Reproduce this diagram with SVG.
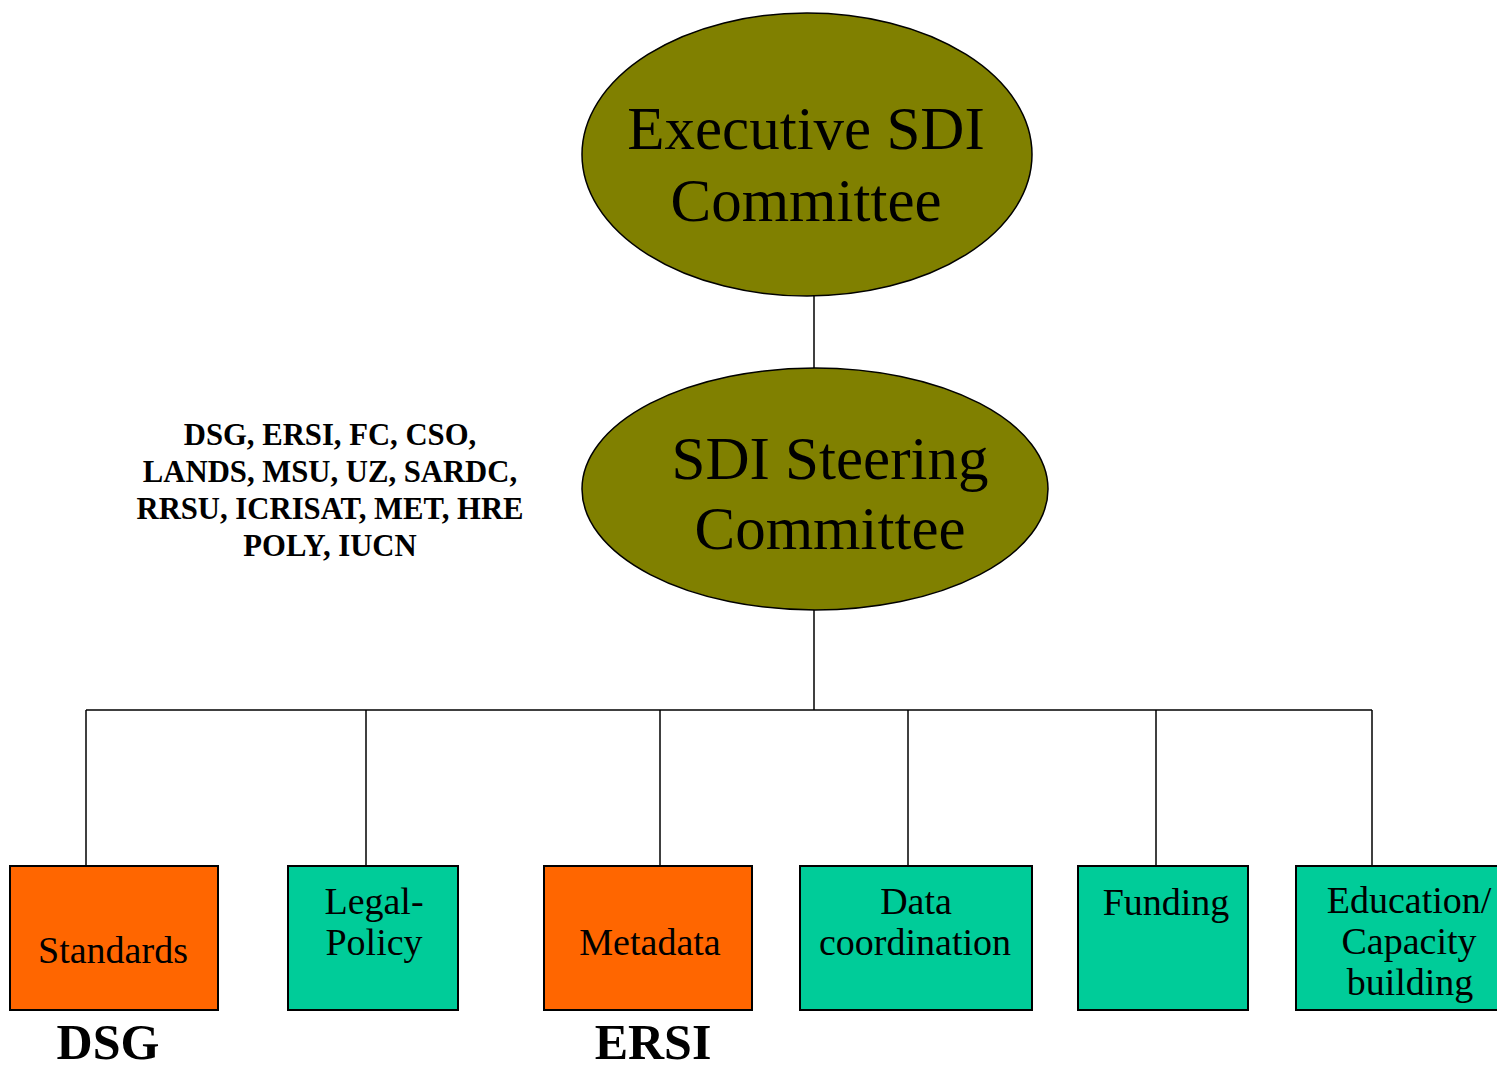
<svg xmlns="http://www.w3.org/2000/svg" width="1497" height="1071" viewBox="0 0 1497 1071">
<style>
.ell{fill:#808000;stroke:#000;stroke-width:1.5}
.org{fill:#FF6600;stroke:#000;stroke-width:2}
.grn{fill:#00CC99;stroke:#000;stroke-width:2}
.big{font-family:"Liberation Serif","Times New Roman",serif;font-size:61px;fill:#000;text-anchor:middle}
.box{font-family:"Liberation Serif","Times New Roman",serif;font-size:38px;fill:#000;text-anchor:middle}
.lbl{font-family:"Liberation Serif","Times New Roman",serif;font-size:50px;font-weight:bold;fill:#000;text-anchor:middle}
.mem{font-family:"Liberation Serif","Times New Roman",serif;font-size:30.7px;font-weight:bold;fill:#000;text-anchor:middle}
.con{stroke:#000;stroke-width:1.5;fill:none}
</style>
<rect width="1497" height="1071" fill="#fff"/>
<g id="connectors">
<line class="con" x1="814" y1="296" x2="814" y2="368"/>
<line class="con" x1="814" y1="610" x2="814" y2="710"/>
<line class="con" x1="86" y1="710" x2="1372" y2="710"/>
<line class="con" x1="86" y1="710" x2="86" y2="866"/>
<line class="con" x1="366" y1="710" x2="366" y2="866"/>
<line class="con" x1="660" y1="710" x2="660" y2="866"/>
<line class="con" x1="908" y1="710" x2="908" y2="866"/>
<line class="con" x1="1156" y1="710" x2="1156" y2="866"/>
<line class="con" x1="1372" y1="710" x2="1372" y2="866"/>
</g>
<g id="executive">
<ellipse class="ell" cx="807" cy="154.5" rx="225" ry="141.5"/>
<text class="big" x="806" y="149">Executive SDI</text>
<text class="big" x="806" y="221">Committee</text>
</g>
<g id="steering">
<ellipse class="ell" cx="815" cy="489" rx="233" ry="121"/>
<text class="big" x="830" y="479">SDI Steering</text>
<text class="big" x="830" y="549">Committee</text>
</g>
<g id="members">
<text class="mem" x="330" y="445">DSG, ERSI, FC, CSO,</text>
<text class="mem" x="330" y="482">LANDS, MSU, UZ, SARDC,</text>
<text class="mem" x="330" y="519">RRSU, ICRISAT, MET, HRE</text>
<text class="mem" x="330" y="556">POLY, IUCN</text>
</g>
<g id="standards">
<rect class="org" x="10" y="866" width="208" height="144"/>
<text class="box" x="113" y="963">Standards</text>
</g>
<g id="legal">
<rect class="grn" x="288" y="866" width="170" height="144"/>
<text class="box" x="374" y="914">Legal-</text>
<text class="box" x="374" y="955">Policy</text>
</g>
<g id="metadata">
<rect class="org" x="544" y="866" width="208" height="144"/>
<text class="box" x="650" y="955">Metadata</text>
</g>
<g id="data">
<rect class="grn" x="800" y="866" width="232" height="144"/>
<text class="box" x="916" y="914">Data</text>
<text class="box" x="915" y="955">coordination</text>
</g>
<g id="funding">
<rect class="grn" x="1078" y="866" width="170" height="144"/>
<text class="box" x="1166" y="915">Funding</text>
</g>
<g id="education">
<rect class="grn" x="1296" y="866" width="230" height="144"/>
<text class="box" x="1409" y="913">Education/</text>
<text class="box" x="1409" y="954">Capacity</text>
<text class="box" x="1410" y="995">building</text>
</g>
<g id="dsg"><text class="lbl" x="108" y="1059">DSG</text></g>
<g id="ersi"><text class="lbl" x="653" y="1059">ERSI</text></g>
</svg>
